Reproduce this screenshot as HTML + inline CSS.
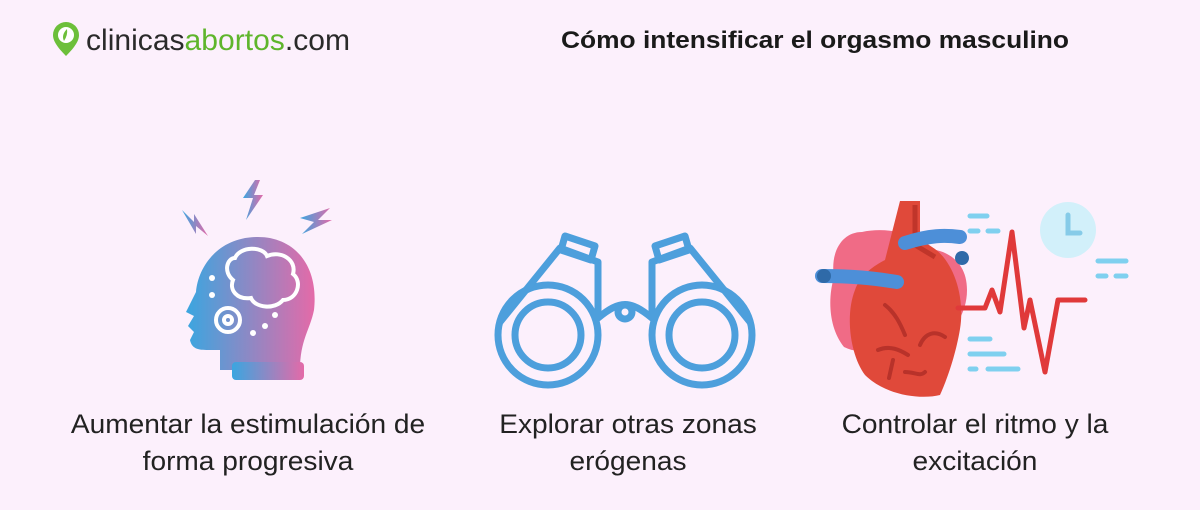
<!DOCTYPE html>
<html><head><meta charset="utf-8"><style>
body{margin:0;width:1200px;height:510px;background:#fcf0fc;font-family:"Liberation Sans",sans-serif;position:relative;overflow:hidden}
.t{position:absolute;text-align:center;font-size:27px;color:#222;line-height:37px;white-space:nowrap;transform:scaleX(1.04)}
</style></head><body>
<svg width="1200" height="510" style="position:absolute;left:0;top:0">
<defs><linearGradient id="g" x1="0" x2="1"><stop offset="0" stop-color="#3aa6e0"/><stop offset="1" stop-color="#e46aa8"/></linearGradient></defs>
<!-- logo -->
<path d="M66 56 C56 46 53 40 53 35 A13 13 0 0 1 79 35 C79 40 76 46 66 56Z" fill="#6cbf3a"/>
<circle cx="66" cy="35" r="8" fill="#fff"/><path d="M64 41 q-3-6 3-12 q1 6 -3 12z" fill="#6cbf3a"/>
<text x="86" y="50" font-size="30" fill="#2a2a2a" textLength="264" lengthAdjust="spacingAndGlyphs">clinicas<tspan fill="#5fb52c">abortos</tspan>.com</text>
<text x="815" y="48" font-size="24" font-weight="bold" text-anchor="middle" fill="#1a1a1a" textLength="508" lengthAdjust="spacingAndGlyphs">Cómo intensificar el orgasmo masculino</text>
<!-- head -->
<g fill="url(#g)">
<path d="M182 210 l12 12 l0-8 l14 22 l-12-10 l0 8z"/>
<path d="M255 180 l-12 18 h10 l-7 22 l17-25 h-9 l6-15z"/>
<path d="M300 218 l30-10 l-12 12 l14 0 l-30 14 l12-12z"/>
<path d="M258 237 c-40 0-60 30-62 55 l-10 20 l8 4 l-6 10 l6 6 l-4 8 c2 10 10 10 20 10 l10 0 l0 20 l80 0 c0-30 10-40 14-60 c5-45-20-73-56-73z"/>
<rect x="232" y="362" width="72" height="18" rx="4"/>
</g>
<g fill="none" stroke="#fff" stroke-width="4">
<path d="M235 258 c5-12 28-12 32-2 c14-6 30 4 26 18 c10 8 4 26-10 26 c-8 10-28 8-32-2 c-14 2-22-8-18-18 c-10-8-6-22 2-22z"/>
<circle cx="228" cy="320" r="12"/><circle cx="228" cy="320" r="4"/>
</g>
<g fill="#fff"><circle cx="212" cy="278" r="3"/><circle cx="212" cy="295" r="3"/><circle cx="253" cy="333" r="3"/><circle cx="265" cy="326" r="3"/><circle cx="275" cy="315" r="3"/></g>
<!-- binoculars -->
<g fill="none" stroke="#4d9fdc" stroke-width="7" stroke-linejoin="round">
<circle cx="548" cy="335" r="50"/><circle cx="548" cy="335" r="33"/>
<circle cx="702" cy="335" r="50"/><circle cx="702" cy="335" r="33"/>
<path d="M500 322 L560 248 L598 262 L598 318 C620 300 630 300 652 318 L652 262 L690 248 L750 322"/>
<path d="M565 236 l30 10 l-4 14 l-30-10z M685 236 l-30 10 l4 14 l30-10z"/>
<circle cx="625" cy="312" r="7"/>
</g>
<!-- heart -->
<path d="M862 232 c-20 0-32 20-28 45 c-6 20-6 50 10 70 c20 10 40 0 40-30 l40-70 c-10-15-40-20-62-15z" fill="#f06b86"/>
<path d="M912 250 c25-5 55 5 55 40 c0 25-15 40-20 45 c-5 20-10 30-10 35" fill="#f06b86"/>
<path d="M900 201 h20 v38 l15 10 c0 0 0 0 0 0 c20 15 30 50 25 80 c-5 30-15 55-20 66 c-20 5-55 0-75-20 c-15-20-20-60-10-85 c5-15 20-25 30-30 z" fill="#e0493a"/>
<path d="M915 205 v40 l20 12" stroke="#c0352a" stroke-width="5" fill="none"/>
<path d="M905 243 c25-8 40-8 55-6" stroke="#4d8fd8" stroke-width="14" fill="none" stroke-linecap="round"/>
<path d="M822 276 c30 0 50 2 75 6" stroke="#4d8fd8" stroke-width="14" fill="none" stroke-linecap="round"/>
<circle cx="824" cy="276" r="7" fill="#2f6aa8"/><circle cx="962" cy="258" r="7" fill="#2f6aa8"/>
<g fill="none" stroke="#b8322a" stroke-width="4" stroke-linecap="round"><path d="M885 305 c10 8 15 18 20 30 M878 350 c12-5 22 0 30 5 M920 345 c5-12 15-15 25-8 M893 360 l-4 18 M905 372 c10 0 15 5 20 0"/></g>
<polyline points="958,308 985,308 992,290 1000,312 1012,232 1024,328 1030,300 1045,372 1058,300 1085,300" fill="none" stroke="#e0393a" stroke-width="5" stroke-linejoin="round" stroke-linecap="round"/>
<circle cx="1068" cy="230" r="28" fill="#d2f0fa"/><path d="M1068 215 v18 h12" stroke="#86cbe8" stroke-width="5" fill="none" stroke-linecap="round"/>
<g stroke="#7fd0ef" stroke-width="5" stroke-linecap="round">
<path d="M970 216 h17 M970 231 h8 M988 231 h10 M1098 261 h28 M1098 276 h8 M1116 276 h10 M970 339 h20 M970 354 h34 M970 369 h6 M988 369 h30"/></g>
</svg>
<div class="t" style="left:48px;width:400px;top:406px">Aumentar la estimulación de<br>forma progresiva</div>
<div class="t" style="left:478px;width:300px;top:406px">Explorar otras zonas<br>erógenas</div>
<div class="t" style="left:820px;width:310px;top:406px">Controlar el ritmo y la<br>excitación</div>
</body></html>
